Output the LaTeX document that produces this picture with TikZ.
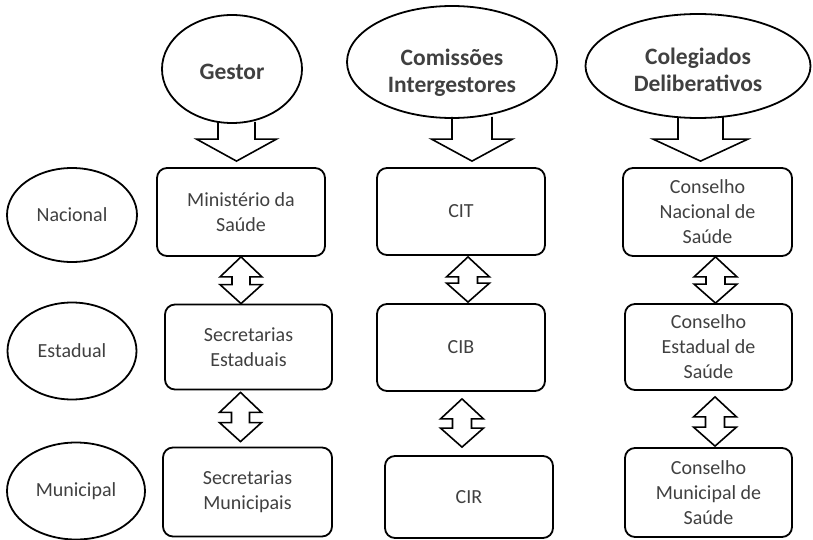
\documentclass[tikz,border=0pt]{standalone}
\usepackage{fontspec}
\setmainfont{Carlito}
\usetikzlibrary{shapes.geometric,calc}
\definecolor{txtgray}{RGB}{64,64,64}

% block arrow: shaft from #1 down to tip #2, half shaft #3, half head #4
\newcommand{\downblk}[4]{%
  \draw[blk] let \p1=#1, \p2=#2 in
    (\x1-#3pt,\y1) -- (\x1-#3pt,\y2+22pt) -- (\x1-#4pt,\y2+22pt) -- (\x1,\y2)
    -- (\x1+#4pt,\y2+22pt) -- (\x1+#3pt,\y2+22pt) -- (\x1+#3pt,\y1);}
% up-down block arrow from tip #1 to tip #2, half width #3
\newcommand{\bothblk}[3]{%
  \draw[blk] let \p1=#1, \p2=#2 in
    (\x1,\y1) -- (\x1+#3pt,\y1-20pt) -- (\x1+#3pt-12pt,\y1-20pt)
    -- (\x1+#3pt-12pt,\y2+19pt) -- (\x1+#3pt,\y2+19pt) -- (\x1,\y2)
    -- (\x1-#3pt,\y2+19pt) -- (\x1-#3pt+12pt,\y2+19pt)
    -- (\x1-#3pt+12pt,\y1-20pt) -- (\x1-#3pt,\y1-20pt) -- cycle;}

\begin{document}
\begin{tikzpicture}[x=1pt, y=-1pt, line width=1.8pt,
  box/.style={rectangle, rounded corners=10pt, draw, inner sep=0pt, align=center,
    text=txtgray, font={\fontsize{20}{25}\selectfont}},
  lvl/.style={ellipse, draw, inner sep=0pt, text=txtgray,
    font={\fontsize{20}{25}\selectfont}},
  head/.style={ellipse, draw, inner sep=0pt},
  hlbl/.style={align=center, text=txtgray, font={\fontsize{23.5}{27}\selectfont\bfseries}},
  blk/.style={draw, line width=1.6pt, line join=miter}]
  \useasboundingbox (0,0) rectangle (813,540);

  % headers
  \node (GES) at (232,69) [head, minimum width=140pt, minimum height=108pt,
    label={[hlbl, yshift=-3pt]center:Gestor}] {};
  \node (COM) at (452,62) [head, minimum width=210pt, minimum height=112pt,
    label={[hlbl, yshift=-11pt]center:Comissões\\Intergestores}] {};
  \node (COL) at (698,66) [head, minimum width=225pt, minimum height=104pt,
    label={[hlbl, yshift=-4pt]center:Colegiados\\Deliberativos}] {};

  % levels
  \node (NAC) at (72,215)  [lvl, minimum width=130pt, minimum height=94pt] {Nacional};
  \node (EST) at (72,351)  [lvl, minimum width=129pt, minimum height=97pt] {Estadual};
  \node (MUN) at (76,491)  [lvl, minimum width=138pt, minimum height=97pt] {Municipal};

  % gestor
  \node (MS) at (241,212)   [box, minimum width=168pt, minimum height=88pt] {Ministério da\\Saúde};
  \node (SE) at (248.5,347) [box, minimum width=167pt, minimum height=85pt] {Secretarias\\Estaduais};
  \node (SM) at (247.5,492) [box, minimum width=169pt, minimum height=89pt] {Secretarias\\Municipais};

  % comissoes
  \node (CIT) at (461,211.5) [box, minimum width=168pt, minimum height=87pt] {CIT};
  \node (CIB) at (461,347.5) [box, minimum width=168pt, minimum height=87pt] {CIB};
  \node (CIR) at (469,497)   [box, minimum width=168pt, minimum height=82pt] {CIR};

  % conselhos
  \node (CNS) at (707.5,212)   [box, minimum width=169pt, minimum height=88pt] {Conselho\\Nacional de\\Saúde};
  \node (CES) at (708.5,347)   [box, minimum width=167pt, minimum height=86pt] {Conselho\\Estadual de\\Saúde};
  \node (CMS) at (708.5,492.5) [box, minimum width=167pt, minimum height=89pt] {Conselho\\Municipal de\\Saúde};

  \downblk{($(GES.south)+(4.5,-2)$)}{($(MS.north)+(0,-6)$)}{18.5}{40}
  \downblk{($(COM.south)+(20,-2)$)}{($(CIT.north)+(0,-6)$)}{20}{40.5}
  \downblk{($(COL.south)+(2.5,-2)$)}{($(CNS.north)+(0,-6)$)}{22.5}{47.5}

  \bothblk{($(MS.south)+(0,0)$)}{(SE.north)}{21}
  \bothblk{($(SE.south)+(-8,2)$)}{($(SM.north)+(0,-5)$)}{21}
  \bothblk{($(CIT.south)+(7,1)$)}{($(CIB.north)+(0,-1)$)}{21.5}
  \bothblk{($(CIB.south)+(1,7)$)}{($(CIR.north)+(0,-8)$)}{21.5}
  \bothblk{($(CNS.south)+(8,0)$)}{(CES.north)}{21.5}
  \bothblk{($(CES.south)+(6.5,6)$)}{($(CMS.north)+(0,-1)$)}{21.5}
\end{tikzpicture}
\end{document}
